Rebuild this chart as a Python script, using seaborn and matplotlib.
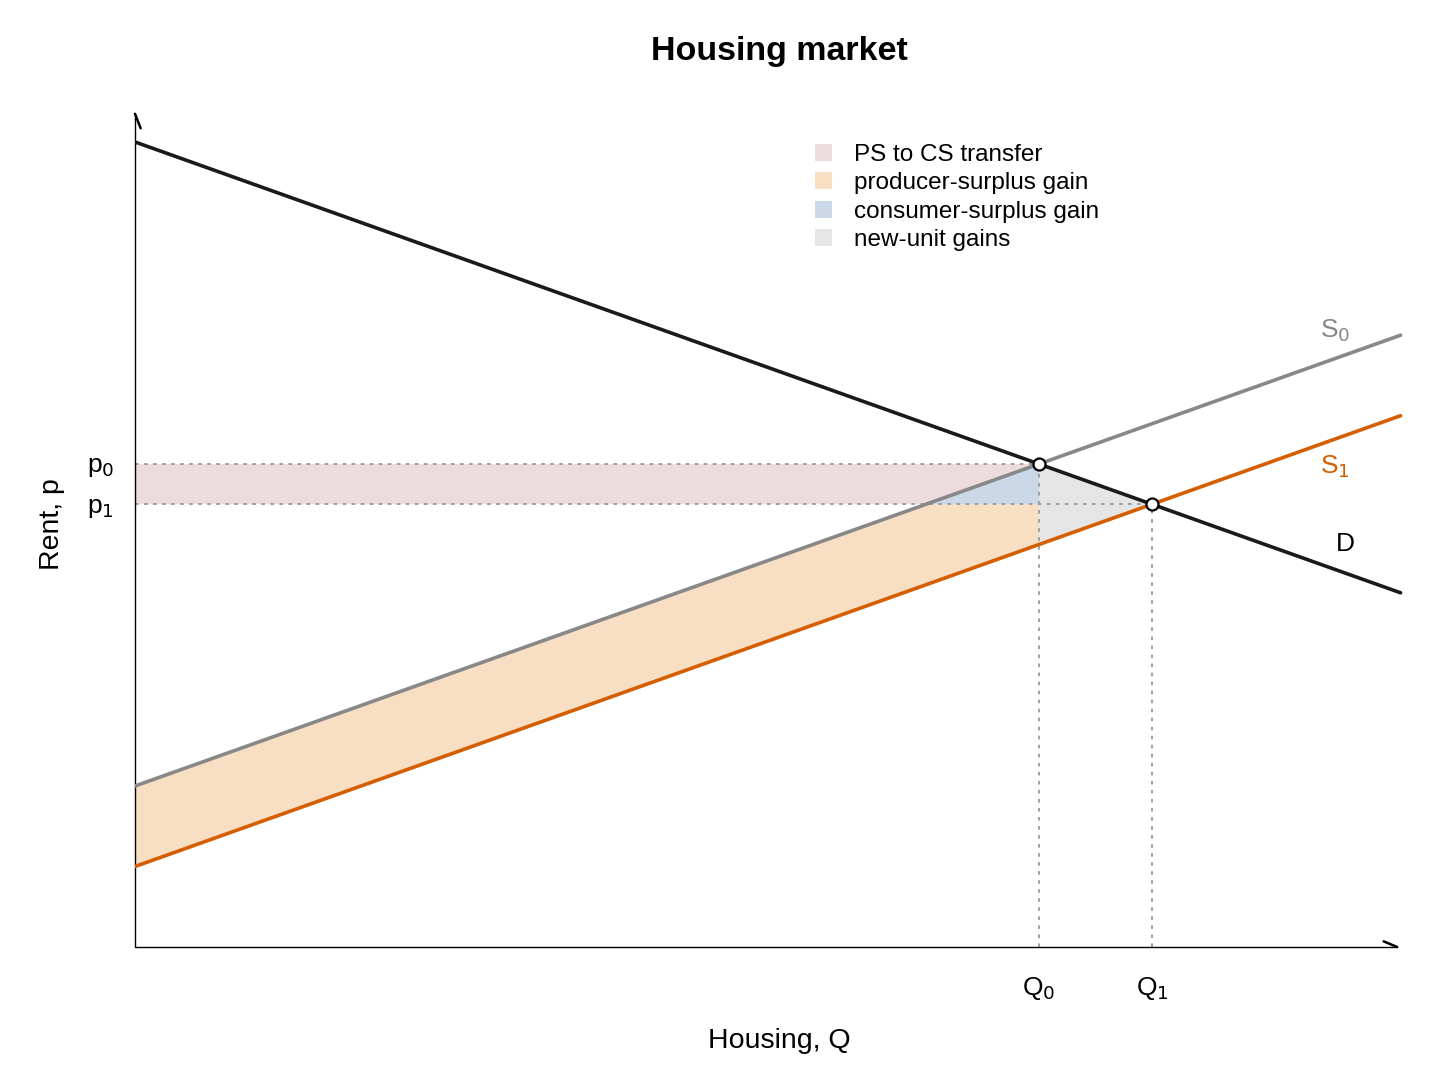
import numpy as np
import pandas as pd
import matplotlib
matplotlib.use("Agg")
import matplotlib.pyplot as plt
from matplotlib.patches import Patch
import seaborn as sns

# endpoints of the curves (Q from 0 to the right edge)
q_ends = [0, 11.2]
demand_p = [10, 4.4]
s0_p = [2, 7.6]
s1_p = [1, 6.6]

# equilibria
q_eq = [8, 9]
p_eq = [6, 5.5]

# area fills (corners)
transfer_q = [0, 7, 8, 0]
transfer_p = [5.5, 5.5, 6, 6]
ps_gain_q = [0, 7, 8, 8, 0]
ps_gain_p = [2, 5.5, 5.5, 5, 1]
cs_gain_q = [7, 8, 8]
cs_gain_p = [5.5, 6, 5.5]
new_unit_q = [8, 9, 8]
new_unit_p = [6, 5.5, 5]

legend_labels = ["PS to CS transfer", "producer-surplus gain",
                 "consumer-surplus gain", "new-unit gains"]
fill_colors = ["#ecdcdd", "#f8dfc4", "#cbd8e7", "#e5e5e5"]

sns.set_theme(style="white")
plt.rcParams['font.family'] = ['Liberation Sans', 'DejaVu Sans']
plt.rcParams['text.color'] = 'black'
plt.rcParams['axes.labelcolor'] = 'black'
plt.rcParams['xtick.color'] = 'black'
plt.rcParams['ytick.color'] = 'black'

fig = plt.figure(figsize=(14.56, 10.71), dpi=100)
ax = fig.add_axes([0.09272, 0.11578, 0.88475, 0.78922])
ax.set_xlim(0, 11.4)
ax.set_ylim(0, 10.5)
for s in ax.spines.values():
    s.set_visible(False)

# shaded areas
ax.fill(transfer_q, transfer_p, color=fill_colors[0], lw=0)
ax.fill(ps_gain_q, ps_gain_p, color=fill_colors[1], lw=0)
ax.fill(cs_gain_q, cs_gain_p, color=fill_colors[2], lw=0)
ax.fill(new_unit_q, new_unit_p, color=fill_colors[3], lw=0)

# guide lines
dot = dict(color="#999999", lw=1.3, ls=(0, (2, 3)), zorder=2)
ax.plot([0, q_eq[0]], [p_eq[0], p_eq[0]], **dot)
ax.plot([0, q_eq[1]], [p_eq[1], p_eq[1]], **dot)
ax.plot([q_eq[0], q_eq[0]], [0, p_eq[0]], **dot)
ax.plot([q_eq[1], q_eq[1]], [0, p_eq[1]], **dot)

# curves
sns.lineplot(x=q_ends, y=s0_p, color="#888888", lw=2.6, ax=ax, zorder=3)
sns.lineplot(x=q_ends, y=s1_p, color="#d55e00", lw=2.6, ax=ax, zorder=3)
sns.lineplot(x=q_ends, y=demand_p, color="#1a1a1a", lw=2.6, ax=ax, zorder=4)

sns.scatterplot(x=q_eq, y=p_eq, s=75, color="white", edgecolor="black",
                linewidth=1.6, ax=ax, zorder=5)

# curve labels
ax.text(10.62, 7.66, "S$_0$", color="#888888", fontsize=19, ha="center", va="center")
ax.text(10.62, 5.96, "S$_1$", color="#d55e00", fontsize=19, ha="center", va="center")
ax.text(10.71, 5.0, "D", color="black", fontsize=19, ha="center", va="center")

# axes with half arrow heads
ax.plot([0, 11.17], [0, 0], color="black", lw=1, clip_on=False)
ax.plot([11.05, 11.17], [0.07, 0], color="black", lw=1.8, clip_on=False)
ax.plot([0, 0], [0, 10.35], color="black", lw=1, clip_on=False)
ax.plot([0, 0.05], [10.35, 10.17], color="black", lw=1.8, clip_on=False)

ax.set_xticks(q_eq)
ax.set_xticklabels(["Q$_0$", "Q$_1$"], fontsize=19)
ax.set_yticks(p_eq)
ax.set_yticklabels(["p$_0$", "p$_1$"], fontsize=19)
ax.tick_params(axis="x", length=0, pad=20)
ax.tick_params(axis="y", length=0, pad=15)

ax.set_xlabel("Housing, Q", fontsize=20.5, labelpad=19)
ax.set_ylabel("Rent, p", fontsize=20.5, labelpad=16)
ax.set_title("Housing market", fontsize=24.5, fontweight="bold", pad=30)

handles = [Patch(facecolor=c, edgecolor="none") for c in fill_colors]
ax.legend(handles, legend_labels, loc="upper left", bbox_to_anchor=(0.5446, 0.886),
          bbox_transform=fig.transFigure, frameon=False, fontsize=17.5,
          handlelength=0.7, handleheight=0.7, handletextpad=0.9, labelspacing=0.26)

fig.savefig("out.png", dpi=100)
